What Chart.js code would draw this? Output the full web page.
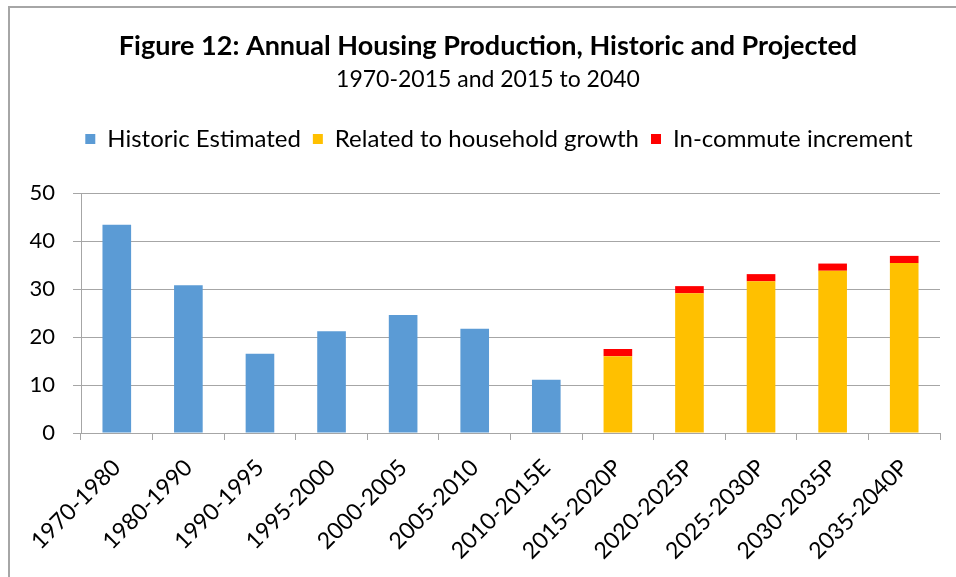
<!DOCTYPE html>
<html>
<head>
<meta charset="utf-8">
<script src="https://cdn.jsdelivr.net/npm/chart.js@4"></script>
<style>
  html, body { margin: 0; padding: 0; background: #fff; }
  #wrap { position: relative; width: 956px; height: 577px; overflow: hidden; }
  #frame { position: absolute; left: 8px; top: 6px; width: 1000px; height: 700px;
           border-left: 2px solid #a6a6a6; border-top: 2px solid #a6a6a6; }
  canvas { position: absolute; left: 0; top: 0; }
</style>
</head>
<body>
<div id="wrap">
  <div id="frame"></div>
  <canvas id="myChart" width="956" height="577"></canvas>
</div>
<script>
// dados
const periods = ['1970-1980', '1980-1990', '1990-1995', '1995-2000', '2000-2005', '2005-2010',
  '2010-2015E', '2015-2020P', '2020-2025P', '2025-2030P', '2030-2035P', '2035-2040P'];
const historicEstimated = [43.4, 30.8, 16.5, 21.2, 24.6, 21.7, 11.1, null, null, null, null, null];
const householdGrowth = [null, null, null, null, null, null, null, 16.0, 29.1, 31.6, 33.8, 35.4];
const inCommute = [null, null, null, null, null, null, null, 1.5, 1.5, 1.5, 1.5, 1.5];
const yTicks = [0, 10, 20, 30, 40, 50];

const font = 'Lato, "Open Sans", sans-serif';
const gridColor = '#a6a6a6';

const data = {
  labels: periods,
  datasets: [
    { label: 'Historic Estimated', data: historicEstimated, backgroundColor: '#5B9BD5' },
    { label: 'Related to household growth', data: householdGrowth, backgroundColor: '#FFC000' },
    { label: 'In-commute increment', data: inCommute, backgroundColor: '#FF0000' }
  ]
};

// espaço extra abaixo da legenda
const legendMargin = {
  id: 'legendMargin',
  beforeInit(chart) {
    const fit = chart.legend.fit;
    chart.legend.fit = function () {
      fit.bind(chart.legend)();
      this.height += 32;
    };
  },
  // título e legenda um pouco à direita, como no original
  afterLayout(chart) {
    chart.boxes.forEach((box) => {
      if (box.position !== 'top' || box instanceof Chart.Scale) return;
      box.left += (box === chart.legend) ? 58 : 36;
    });
  }
};

new Chart(document.getElementById('myChart').getContext('2d'), {
  type: 'bar',
  data: data,
  plugins: [legendMargin],
  options: {
    responsive: false,
    animation: false,
    datasets: { bar: { barPercentage: 0.4, categoryPercentage: 1 } },
    layout: { padding: { left: 0, right: 16, top: 0, bottom: 0 } },
    plugins: {
      title: {
        display: true,
        text: 'Figure 12: Annual Housing Production, Historic and Projected',
        color: '#000',
        font: { family: font, size: 27, weight: 'bold', lineHeight: 1.2 },
        padding: { top: 30, bottom: 0 }
      },
      subtitle: {
        display: true,
        text: '1970-2015 and 2015 to 2040',
        color: '#000',
        font: { family: font, size: 23, lineHeight: 1.2 },
        padding: { top: 3, bottom: 22 }
      },
      legend: {
        position: 'top',
        labels: {
          color: '#000',
          font: { family: font, size: 24 },
          boxWidth: 10,
          boxHeight: 10,
          padding: 12
        }
      },
      tooltip: { enabled: false }
    },
    scales: {
      x: {
        stacked: true,
        grid: { offset: true, drawOnChartArea: false, drawTicks: true, tickLength: 7, color: gridColor },
        border: { color: gridColor },
        ticks: {
          color: '#000',
          font: { family: font, size: 23 },
          minRotation: 45,
          maxRotation: 45,
          padding: 14
        },
        afterFit: (scale) => { scale.height = 144; }
      },
      y: {
        stacked: true,
        min: 0,
        max: 50,
        afterBuildTicks: (scale) => { scale.ticks = yTicks.map(v => ({ value: v })); },
        grid: { color: gridColor, tickLength: 8 },
        border: { color: gridColor },
        ticks: { color: '#000', font: { family: font, size: 22 }, padding: 18 },
        afterFit: (scale) => { scale.width = 81; }
      }
    }
  }
});
</script>
</body>
</html>
